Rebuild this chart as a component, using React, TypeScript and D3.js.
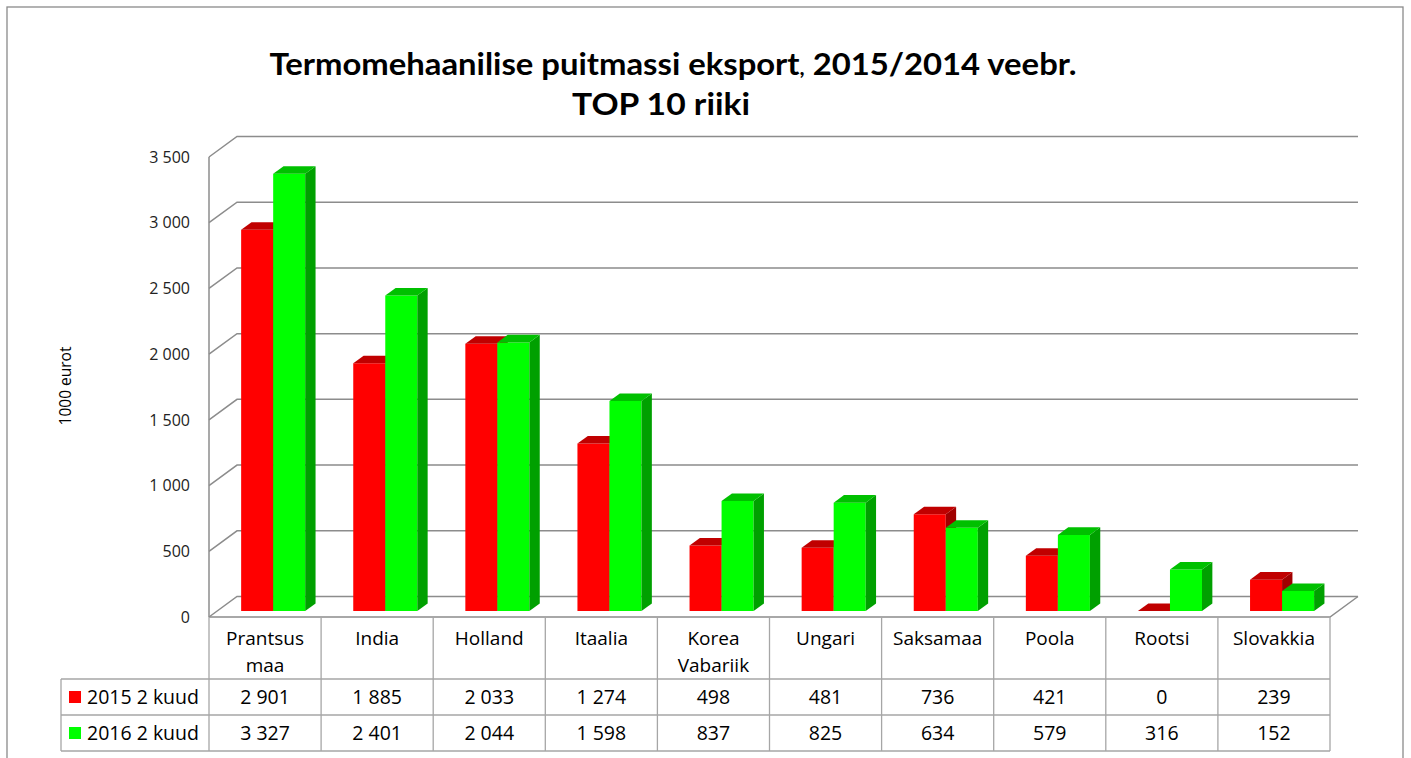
import React from "react";
import * as d3 from "d3";

const categories = ["Prantsus maa", "India", "Holland", "Itaalia", "Korea Vabariik", "Ungari", "Saksamaa", "Poola", "Rootsi", "Slovakkia"];
const seriesNames = ["2015 2 kuud", "2016 2 kuud"];
const values2015 = [2901, 1885, 2033, 1274, 498, 481, 736, 421, 0, 239];
const values2016 = [3327, 2401, 2044, 1598, 837, 825, 634, 579, 316, 152];
const yTicks = [0, 500, 1000, 1500, 2000, 2500, 3000, 3500];

const W = 1411, H = 758;
const X0 = 209, X1 = 1330;
const YB = 617, YT = 157;
const DX = 28, DY = 20.5;
const ZF = 0.29, ZB = 0.66;
const TFONT = "Lato, 'Open Sans', sans-serif";
const FONT = "'Open Sans', Lato, sans-serif";

const fmt = d3.formatLocale({ decimal: ",", thousands: " ", grouping: [3], currency: ["", ""] }).format(",d");

const faces = [
  { front: "#FF0000", top: "#C00000", side: "#A00000" },
  { front: "#00FF00", top: "#00C000", side: "#00A000" },
];

export default function App() {
  const x = d3.scaleBand<string>().domain(categories).range([X0, X1]).paddingInner(0).paddingOuter(0);
  const y = d3.scaleLinear().domain([0, 3500]).range([YB, YT]);
  const bw = x.bandwidth() * 0.2857;
  const P = (px: number, py: number, z: number) => [px + z * DX, py - z * DY];
  const pts = (arr: number[][]) => arr.map((p) => p.join(",")).join(" ");

  const series = [values2015, values2016];
  const rowTop = [617, 679, 715, 751];
  const legendX = 61;

  return (
    <div style={{ position: "absolute", left: 0, top: 0 }}>
      <svg width={W} height={H} style={{ display: "block", background: "#fff" }}>
        <rect x={7} y={7} width={1396} height={780} fill="#fff" stroke="#8a8a8a" strokeWidth={1.3} />
        {/* title */}
        <text x={673} y={75} textAnchor="middle" fontFamily={TFONT} fontWeight="bold" fontSize={30} fill="#000" textLength={807} lengthAdjust="spacingAndGlyphs">
          Termomehaanilise puitmassi eksport<tspan fontSize={20}>,</tspan> 2015/2014 veebr.
        </text>
        <text x={661} y={115} textAnchor="middle" fontFamily={TFONT} fontWeight="bold" fontSize={30} fill="#000" textLength={178} lengthAdjust="spacingAndGlyphs">
          TOP 10 riiki
        </text>
        {/* y axis label */}
        <text transform="translate(71,386) rotate(-90)" textAnchor="middle" fontFamily={FONT} fontSize={15.5} fill="#000">
          1000 eurot
        </text>
        {/* gridlines */}
        {yTicks.map((t) => {
          const a = P(X0, y(t), 0), b = P(X0, y(t), 1), c = P(X1, y(t), 1);
          return <polyline key={t} points={pts([a, b, c])} fill="none" stroke="#8c8c8c" strokeWidth={1.5} />;
        })}
        {/* floor front + right edge, left axis */}
        <polyline points={pts([P(X0, YB, 0), P(X1, YB, 0), P(X1, YB, 1)])} fill="none" stroke="#8c8c8c" strokeWidth={1.5} />
        <line x1={X0} x2={X0} y1={YT} y2={YB} stroke="#8c8c8c" strokeWidth={1.5} />
        {/* tick labels */}
        {yTicks.map((t) => (
          <text key={t} x={190} y={y(t)} dy="0.36em" textAnchor="end" fontFamily={FONT} fontSize={16} fill="#222">
            {fmt(t)}
          </text>
        ))}
        {/* bars */}
        {categories.map((cat, i) => {
          const cx = (x(cat) as number) + x.bandwidth() / 2;
          return series.map((vals, s) => {
            const xl = cx - bw + s * bw, xr = xl + bw;
            const yt = y(vals[i]), yb = y(0);
            const f = faces[s];
            const front = [P(xl, yt, ZF), P(xr, yt, ZF), P(xr, yb, ZF), P(xl, yb, ZF)];
            const top = [P(xl, yt, ZF), P(xr, yt, ZF), P(xr, yt, ZB), P(xl, yt, ZB)];
            const side = [P(xr, yt, ZF), P(xr, yt, ZB), P(xr, yb, ZB), P(xr, yb, ZF)];
            return (
              <g key={cat + s}>
                {vals[i] > 0 && <polygon points={pts(front)} fill={f.front} />}
                {vals[i] > 0 && <polygon points={pts(side)} fill={f.side} />}
                <polygon points={pts(top)} fill={f.top} />
              </g>
            );
          });
        })}
        {/* data table */}
        <g stroke="#a6a6a6" strokeWidth={1.3}>
          {[rowTop[1], rowTop[2], rowTop[3]].map((ry) => (
            <line key={ry} x1={legendX} x2={X1} y1={ry} y2={ry} />
          ))}
          <line x1={legendX} x2={legendX} y1={rowTop[1]} y2={rowTop[3]} />
          {d3.range(categories.length + 1).map((k) => {
            const vx = X0 + k * x.bandwidth();
            return <line key={k} x1={vx} x2={vx} y1={rowTop[0]} y2={rowTop[3]} />;
          })}
        </g>
        {categories.map((cat, i) => {
          const cx = (x(cat) as number) + x.bandwidth() / 2;
          const parts = cat.split(" ");
          return (
            <g key={cat} fontFamily={FONT} fontSize={19} fill="#000" textAnchor="middle">
              {parts.map((p, k) => (
                <text key={k} x={cx} y={645 + k * 27}>
                  {p}
                </text>
              ))}
              {series.map((vals, s) => (
                <text key={s} x={cx} y={(rowTop[s + 1] + rowTop[s + 2]) / 2} dy="0.36em" fontSize={19.5}>
                  {fmt(vals[i])}
                </text>
              ))}
            </g>
          );
        })}
        {seriesNames.map((nm, s) => {
          const cy = (rowTop[s + 1] + rowTop[s + 2]) / 2;
          return (
            <g key={nm}>
              <rect x={69} y={cy - 6} width={12} height={12} fill={faces[s].front} />
              <text x={87} y={cy} dy="0.36em" fontFamily={FONT} fontSize={19.5} fill="#000">
                {nm}
              </text>
            </g>
          );
        })}
      </svg>
    </div>
  );
}
